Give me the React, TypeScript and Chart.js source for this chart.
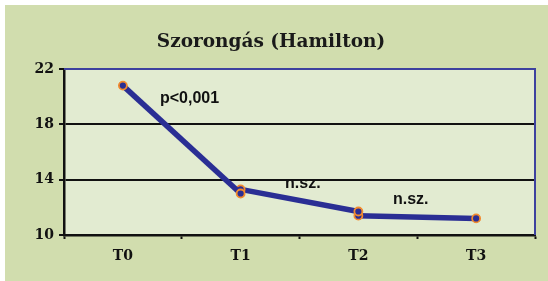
import React, { useEffect, useRef } from "react";
import { Chart, registerables } from "chart.js";

Chart.register(...registerables);

const titleText = "Szorongás (Hamilton)";
const categories = ["T0", "T1", "T2", "T3"];
const segment1: (number | null)[] = [20.8, 13.0, null, null];
const segment2: (number | null)[] = [null, 13.3, 11.7, null];
const segment3: (number | null)[] = [null, null, 11.4, 11.2];
const yMin = 10;
const yMax = 22;
const yStep = 4;
const noteTexts = ["p<0,001", "n.sz.", "n.sz."];
const noteIndex = [0.315, 1.377, 2.294];
const noteValue = [19.56, 13.38, 12.23];

const OUTER_BG = "#d1ddae";
const PLOT_BG = "#e2ebd1";
const LINE_BLUE = "#2a2e94";
const BORDER_BLUE = "#3d419e";
const ORANGE = "#f28a2e";

export default function App() {
  const ref = useRef<HTMLCanvasElement | null>(null);

  useEffect(() => {
    if (!ref.current) return;
    const ds = (data: (number | null)[]) => ({
      data,
      borderColor: LINE_BLUE,
      borderWidth: 5.5,
      backgroundColor: LINE_BLUE,
      pointRadius: 4,
      pointBorderWidth: 1.8,
      pointBorderColor: ORANGE,
      pointBackgroundColor: LINE_BLUE,
      tension: 0,
      spanGaps: false,
    });

    const deco = {
      id: "deco",
      beforeDraw(chart: any) {
        const { ctx, chartArea: a } = chart;
        ctx.save();
        ctx.fillStyle = PLOT_BG;
        ctx.fillRect(a.left, a.top, a.right - a.left, a.bottom - a.top);
        ctx.restore();
      },
      beforeDatasetsDraw(chart: any) {
        const { ctx, chartArea: a } = chart;
        ctx.save();
        ctx.strokeStyle = BORDER_BLUE;
        ctx.lineWidth = 2;
        ctx.beginPath();
        ctx.moveTo(a.left, a.top);
        ctx.lineTo(a.right, a.top);
        ctx.lineTo(a.right, a.bottom);
        ctx.stroke();
        ctx.restore();
      },
      afterDatasetsDraw(chart: any) {
        const { ctx } = chart;
        const xs = chart.scales.x;
        const ys = chart.scales.y;
        ctx.save();
        ctx.fillStyle = "#111";
        ctx.font = "bold 16px 'Liberation Sans', Arial, sans-serif";
        ctx.textAlign = "left";
        ctx.textBaseline = "alphabetic";
        noteTexts.forEach((t, i) => {
          ctx.fillText(t, xs.getPixelForValue(noteIndex[i]), ys.getPixelForValue(noteValue[i]));
        });
        ctx.font = "bold 18.5px 'DejaVu Serif', serif";
        ctx.textAlign = "center";
        ctx.fillStyle = "#1a1a1a";
        ctx.fillText(titleText, 266, 42);
        ctx.restore();
      },
    };

    const chart = new Chart(ref.current, {
      type: "line",
      data: {
        labels: categories,
        datasets: [ds(segment1), ds(segment2), ds(segment3)],
      },
      options: {
        responsive: false,
        animation: false,
        layout: { padding: { top: 64, right: 13, left: 0, bottom: 0 } },
        plugins: {
          legend: { display: false },
          tooltip: { enabled: false },
          title: { display: false },
        },
        scales: {
          x: {
            type: "category",
            offset: true,
            afterFit(s: any) {
              s.height = 46;
            },
            grid: {
              offset: true,
              drawOnChartArea: false,
              drawTicks: true,
              tickLength: 4,
              tickWidth: 2,
              tickColor: "#111",
            },
            border: { display: true, color: "#111", width: 2.5 },
            ticks: {
              color: "#111",
              padding: 9,
              font: { family: "'DejaVu Serif', serif", size: 14, weight: "bold" },
            },
          },
          y: {
            min: yMin,
            max: yMax,
            afterFit(s: any) {
              s.width = 59;
            },
            grid: {
              color: (c: any) => (c.tick && c.tick.value === yMax ? BORDER_BLUE : "#111"),
              lineWidth: 2,
              drawTicks: true,
              tickLength: 5,
              tickColor: "#111",
            },
            border: { display: true, color: "#111", width: 2.5 },
            ticks: {
              stepSize: yStep,
              color: "#111",
              padding: 5,
              font: { family: "'DejaVu Serif', serif", size: 14, weight: "bold" },
            },
          },
        },
      },
      plugins: [deco],
    } as any);
    return () => chart.destroy();
  }, []);

  return (
    <div
      style={{
        position: "fixed",
        left: 0,
        top: 0,
        width: 548,
        height: 281,
        background: "#ffffff",
      }}
    >
      <div
        style={{
          position: "absolute",
          left: 5,
          top: 5,
          width: 543,
          height: 276,
          background: OUTER_BG,
        }}
      >
        <canvas ref={ref} width={543} height={276} style={{ width: 543, height: 276, display: "block" }} />
      </div>
    </div>
  );
}
